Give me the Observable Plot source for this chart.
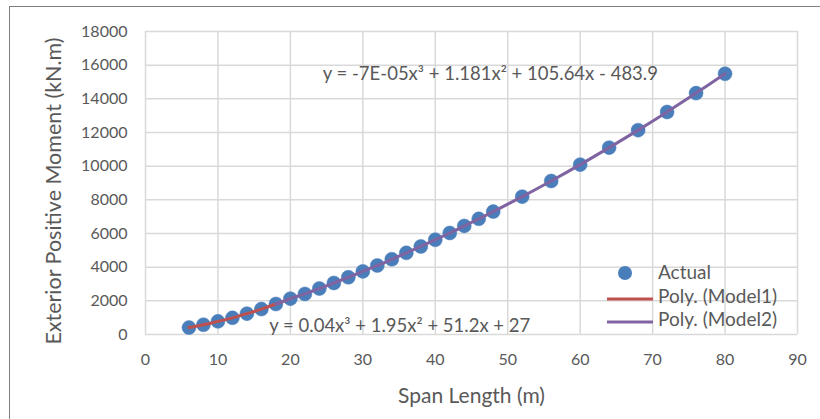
<!DOCTYPE html>
<html>
<head>
<meta charset="utf-8">
<script src="https://cdn.jsdelivr.net/npm/d3@7"></script>
<script src="https://cdn.jsdelivr.net/npm/@observablehq/plot@0.6"></script>
<style>
  body { margin: 0; background: #fff; }
  #wrap { position: relative; width: 820px; height: 419px; overflow: hidden; font-family: Lato, "Open Sans", sans-serif; }
  #frame { position: absolute; left: 9px; top: 6px; width: 900px; height: 500px; border-top: 1.5px solid #7f7f7f; border-left: 1.5px solid #7f7f7f; pointer-events: none; }
  #legend { position: absolute; left: 600px; top: 262px; font-size: 19px; color: #595959; }
  .row { position: absolute; left: 0; height: 22px; white-space: nowrap; }
  .row svg { position: absolute; left: 0; top: 0; }
  .row span { position: absolute; left: 58px; top: -1px; line-height: 22px; }
  svg text { font-family: Lato, "Open Sans", sans-serif; }
</style>
</head>
<body>
<div id="wrap">
  <div id="chart"></div>
  <div id="frame"></div>
  <div id="legend"></div>
</div>
<script>
const spanLength = [6, 8, 10, 12, 14, 16, 18, 20, 22, 24, 26, 28, 30, 32, 34, 36, 38, 40, 42, 44, 46, 48, 52, 56, 60, 64, 68, 72, 76, 80];
const actualMoment = [410, 580, 780, 990, 1240, 1510, 1810, 2130, 2410, 2730, 3060, 3400, 3750, 4100, 4470, 4850, 5230, 5630, 6030, 6450, 6870, 7300, 8190, 9120, 10090, 11100, 12140, 13220, 14340, 15490];
const model1Range = [6, 20];
const model2Range = [18, 80];
const xTicks = [0, 10, 20, 30, 40, 50, 60, 70, 80, 90];
const yTicks = [0, 2000, 4000, 6000, 8000, 10000, 12000, 14000, 16000, 18000];
const equations = [
  {x: 47.6, y: 15450, text: "y = -7E-05x³ + 1.181x² + 105.64x - 483.9"},
  {x: 35.1, y: 480, text: "y = 0.04x³ + 1.95x² + 51.2x + 27"}
];
const legendItems = [
  {name: "Actual", kind: "dot", color: "#4a7ebb"},
  {name: "Poly. (Model1)", kind: "line", color: "#c0504d"},
  {name: "Poly. (Model2)", kind: "line", color: "#8064a2"}
];

const data = spanLength.map((x, i) => ({x, y: actualMoment[i]}));
const model1 = data.filter(d => d.x >= model1Range[0] && d.x <= model1Range[1]);
const model2 = data.filter(d => d.x >= model2Range[0] && d.x <= model2Range[1]);

const chart = Plot.plot({
  width: 820,
  height: 419,
  marginLeft: 145,
  marginRight: 23,
  marginTop: 31,
  marginBottom: 85,
  style: {fontSize: "16px", color: "#595959", background: "transparent"},
  x: {domain: [0, 90]},
  y: {domain: [0, 18000]},
  marks: [
    Plot.gridX(xTicks, {stroke: "#d9d9d9", strokeOpacity: 1, strokeWidth: 1.5}),
    Plot.gridY(yTicks, {stroke: "#d9d9d9", strokeOpacity: 1, strokeWidth: 1.5}),
    Plot.axisX(xTicks, {tickSize: 0, tickPadding: 19, fontSize: 16, fill: "#595959", tickFormat: d => String(d),
      label: "Span Length (m)", labelAnchor: "center", labelOffset: 68, labelArrow: "none"}),
    Plot.axisY(yTicks, {tickSize: 0, tickPadding: 18, fontSize: 16, fill: "#595959", tickFormat: d => String(d),
      label: "Exterior Positive Moment (kN.m)", labelAnchor: "center", labelOffset: 100, labelArrow: "none"}),
    Plot.text(equations, {x: "x", y: "y", text: "text", fill: "#595959", fontSize: 18.5}),
    Plot.dot(data, {x: "x", y: "y", r: 7, fill: "#4a7ebb", stroke: "#4a7ebb", strokeWidth: 0.5}),
    Plot.line(model1, {x: "x", y: "y", stroke: "#c0504d", strokeWidth: 3, curve: "catmull-rom"}),
    Plot.line(model2, {x: "x", y: "y", stroke: "#8064a2", strokeWidth: 3, curve: "catmull-rom"})
  ]
});
document.getElementById("chart").appendChild(chart);

chart.querySelectorAll("g[aria-label='x-axis label'] text").forEach(t => {
  t.setAttribute("font-size", "21px");
  t.style.fontSize = "21px";
});
chart.querySelectorAll("g[aria-label='y-axis label'] text").forEach(t => {
  t.setAttribute("font-size", "21.5px");
  t.style.fontSize = "21.5px";
  const tr = t.getAttribute("transform") || "";
  t.setAttribute("transform", tr + " translate(-8,0)");
});

const legend = document.getElementById("legend");
legendItems.forEach((item, i) => {
  const row = document.createElement("div");
  row.className = "row";
  row.style.top = (i * 23.5) + "px";
  const s = d3.create("svg").attr("width", 58).attr("height", 22);
  if (item.kind === "dot") s.append("circle").attr("cx", 25).attr("cy", 11).attr("r", 7).attr("fill", item.color);
  else s.append("line").attr("x1", 7).attr("x2", 53).attr("y1", 13).attr("y2", 13).attr("stroke", item.color).attr("stroke-width", 3);
  row.appendChild(s.node());
  const sp = document.createElement("span");
  sp.textContent = item.name;
  row.appendChild(sp);
  legend.appendChild(row);
});
</script>
</body>
</html>
